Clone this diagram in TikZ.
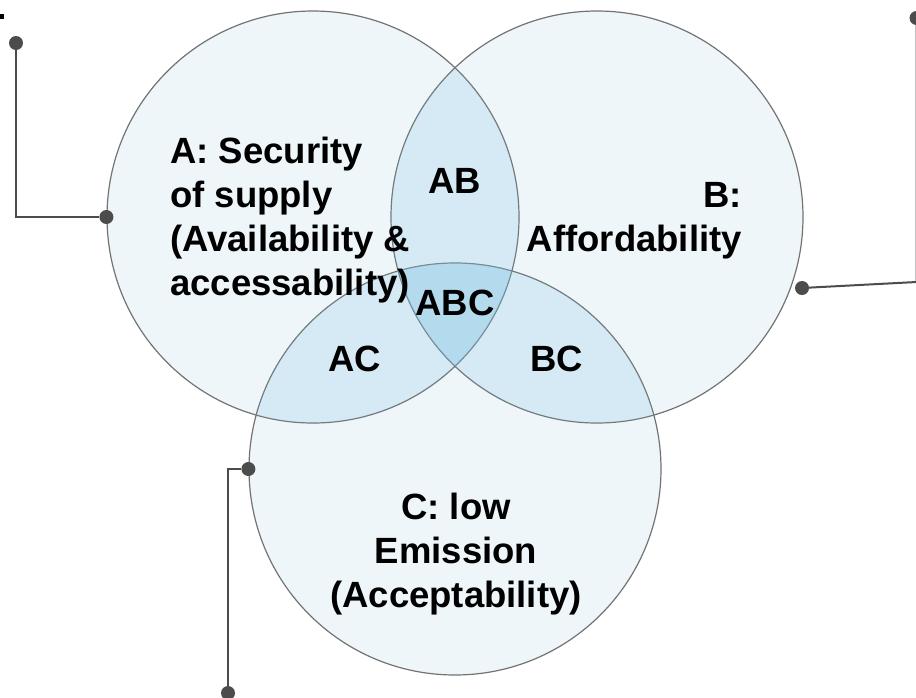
\documentclass[tikz,border=0pt]{standalone}
\usepackage{fontspec}
\setmainfont{Liberation Sans}
\definecolor{setfill}{RGB}{238,246,250}
\definecolor{lensfill}{RGB}{120,190,225}
\begin{document}
\begin{tikzpicture}[x=1pt, y=-1pt, font=\bfseries\fontsize{36.5}{44}\selectfont,
  set/.style={circle, draw=black!55, line width=1.2pt, minimum size=412pt, inner sep=0pt},
  lens/.style={fill=lensfill, fill opacity=0.2},
  label/.style={inner sep=0pt, anchor=base},
  dot/.style={circle, fill=black!70, minimum size=14pt, inner sep=0pt},
  lead/.style={black!70, line width=2pt}]
  \useasboundingbox (0,0) rectangle (916,697);
  % light fill of the three sets
  \foreach \c in {(313,217),(597,217),(455,469)}
    \fill[setfill] \c circle (206pt);
  \node[set] (A) at (313,217) {};
  \node[set] (B) at (597,217) {};
  \node[set] (C) at (455,469) {};
  % darker overlaps
  \begin{scope}
    \clip (A.center) circle (206pt);
    \fill[lens] (B.center) circle (206pt);
    \fill[lens] (C.center) circle (206pt);
  \end{scope}
  \begin{scope}
    \clip (B.center) circle (206pt);
    \fill[lens] (C.center) circle (206pt);
  \end{scope}

  % multi-line labels sit on their last baseline
  \node[label, anchor=base west, align=left] (tA) at (170,295)
    {A: Security\\of supply\\(Availability \&\\accessability)};
  \node[label, anchor=base east, align=right] (tB) at (742,251) {B:\\Affordability};
  \node[label, align=center] (tC) at (456,607) {C: low\\Emission\\(Acceptability)};
  \node[label] (tAB) at (455,193) {AB};
  \node[label] (tABC) at (455,315) {ABC};
  \node[label] (tAC) at (355,371) {AC};
  \node[label] (tBC) at (557,371) {BC};

  % leader lines
  \fill (0,14) rectangle (4,19);
  \node[dot] (pA) at (16,43) {};
  \node[dot] (dA) at (A.west) {};
  \draw[lead] (pA) |- (dA);
  \node[dot] (pB) at (916.5,18) {};
  \coordinate (kB) at (916.5,282);
  \node[dot] (dB) at (802,288) {};
  \draw[lead] (pB) -- (kB) -- (dB);
  \node[dot] (dC) at (C.west) {};
  \node[dot] (pC) at (228,693) {};
  \draw[lead] (dC) -| (pC);
\end{tikzpicture}
\end{document}
